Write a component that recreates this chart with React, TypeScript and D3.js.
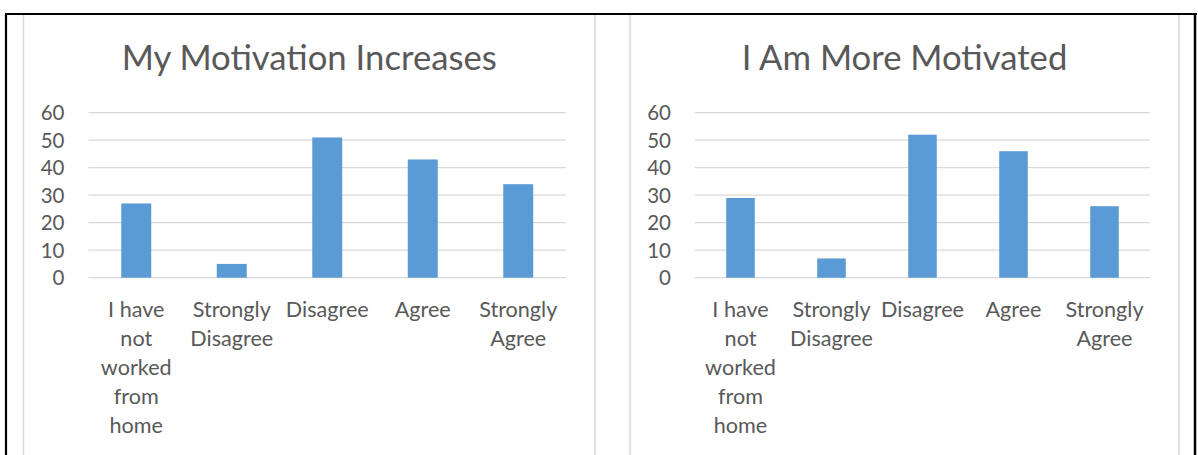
import React from "react";
import * as d3 from "d3";

// Survey responses shown in both charts
const categories = [
  "I have not worked from home",
  "Strongly Disagree",
  "Disagree",
  "Agree",
  "Strongly Agree",
];
// Wrapped axis labels, one entry per category
const categoryLines = [
  ["I have", "not", "worked", "from", "home"],
  ["Strongly", "Disagree"],
  ["Disagree"],
  ["Agree"],
  ["Strongly", "Agree"],
];
const motivationIncreases = [27, 5, 51, 43, 34];
const moreMotivated = [29, 7, 52, 46, 26];
const yTicks = [0, 10, 20, 30, 40, 50, 60];
const titles = ["My Motivation Increases", "I Am More Motivated"];

const W = 1198;
const H = 455;
const FONT = "Lato, 'Open Sans', sans-serif";
const TEXT = "#595959";
const GRID = "#d9d9d9";
const BAR = "#5b9bd5";

type ChartProps = {
  x0: number;
  x1: number;
  title: string;
  values: number[];
};

function BarChart({ x0, x1, title, values }: ChartProps) {
  const plotLeft = x0 + 65;
  const plotRight = x1 - 29;
  const x = d3
    .scaleBand<string>()
    .domain(categories)
    .range([plotLeft, plotRight])
    .paddingInner(0.686)
    .paddingOuter(0.343);
  const y = d3.scaleLinear().domain([0, 60]).range([277.7, 112.7]);

  return (
    <g>
      <rect
        x={x0}
        y={14}
        width={x1 - x0}
        height={H}
        fill="#fff"
        stroke={GRID}
        strokeWidth={1.5}
      />
      <text
        x={(x0 + x1) / 2}
        y={69.5}
        textAnchor="middle"
        fontFamily={FONT}
        fontWeight={400}
        fontSize={34.7}
        fill={TEXT}
      >
        {title}
      </text>
      {yTicks.map((t) => (
        <g key={t}>
          <line
            x1={plotLeft}
            x2={plotRight}
            y1={y(t)}
            y2={y(t)}
            stroke={GRID}
            strokeWidth={1.3}
          />
          <text
            x={plotLeft - 24}
            y={y(t)}
            dy="0.36em"
            textAnchor="end"
            fontFamily={FONT}
            fontSize={20.5}
            fill={TEXT}
          >
            {t}
          </text>
        </g>
      ))}
      {values.map((v, i) => (
        <rect
          key={categories[i]}
          x={x(categories[i])}
          y={y(v)}
          width={x.bandwidth()}
          height={y(0) - y(v)}
          fill={BAR}
        />
      ))}
      {categories.map((c, i) => {
        const cx = (x(c) as number) + x.bandwidth() / 2;
        return (
          <text
            key={c}
            x={cx}
            y={316.5}
            textAnchor="middle"
            fontFamily={FONT}
            fontSize={21.6}
            fill={TEXT}
          >
            {categoryLines[i].map((line, j) => (
              <tspan key={j} x={cx} dy={j === 0 ? 0 : 29}>
                {line}
              </tspan>
            ))}
          </text>
        );
      })}
    </g>
  );
}

export default function App() {
  return (
    <div style={{ position: "absolute", left: 0, top: 0 }}>
      <svg width={W} height={H} style={{ display: "block" }}>
        <rect width={W} height={H} fill="#fff" />
        <BarChart x0={23.5} x1={595} title={titles[0]} values={motivationIncreases} />
        <BarChart x0={630} x1={1179} title={titles[1]} values={moreMotivated} />
        {/* page table border */}
        <line x1={5} x2={1197} y1={14} y2={14} stroke="#000" strokeWidth={2} />
        <line x1={6} x2={6} y1={13} y2={H} stroke="#000" strokeWidth={2.2} />
        <line x1={1195} x2={1195} y1={13} y2={H} stroke="#000" strokeWidth={2.5} />
      </svg>
    </div>
  );
}
